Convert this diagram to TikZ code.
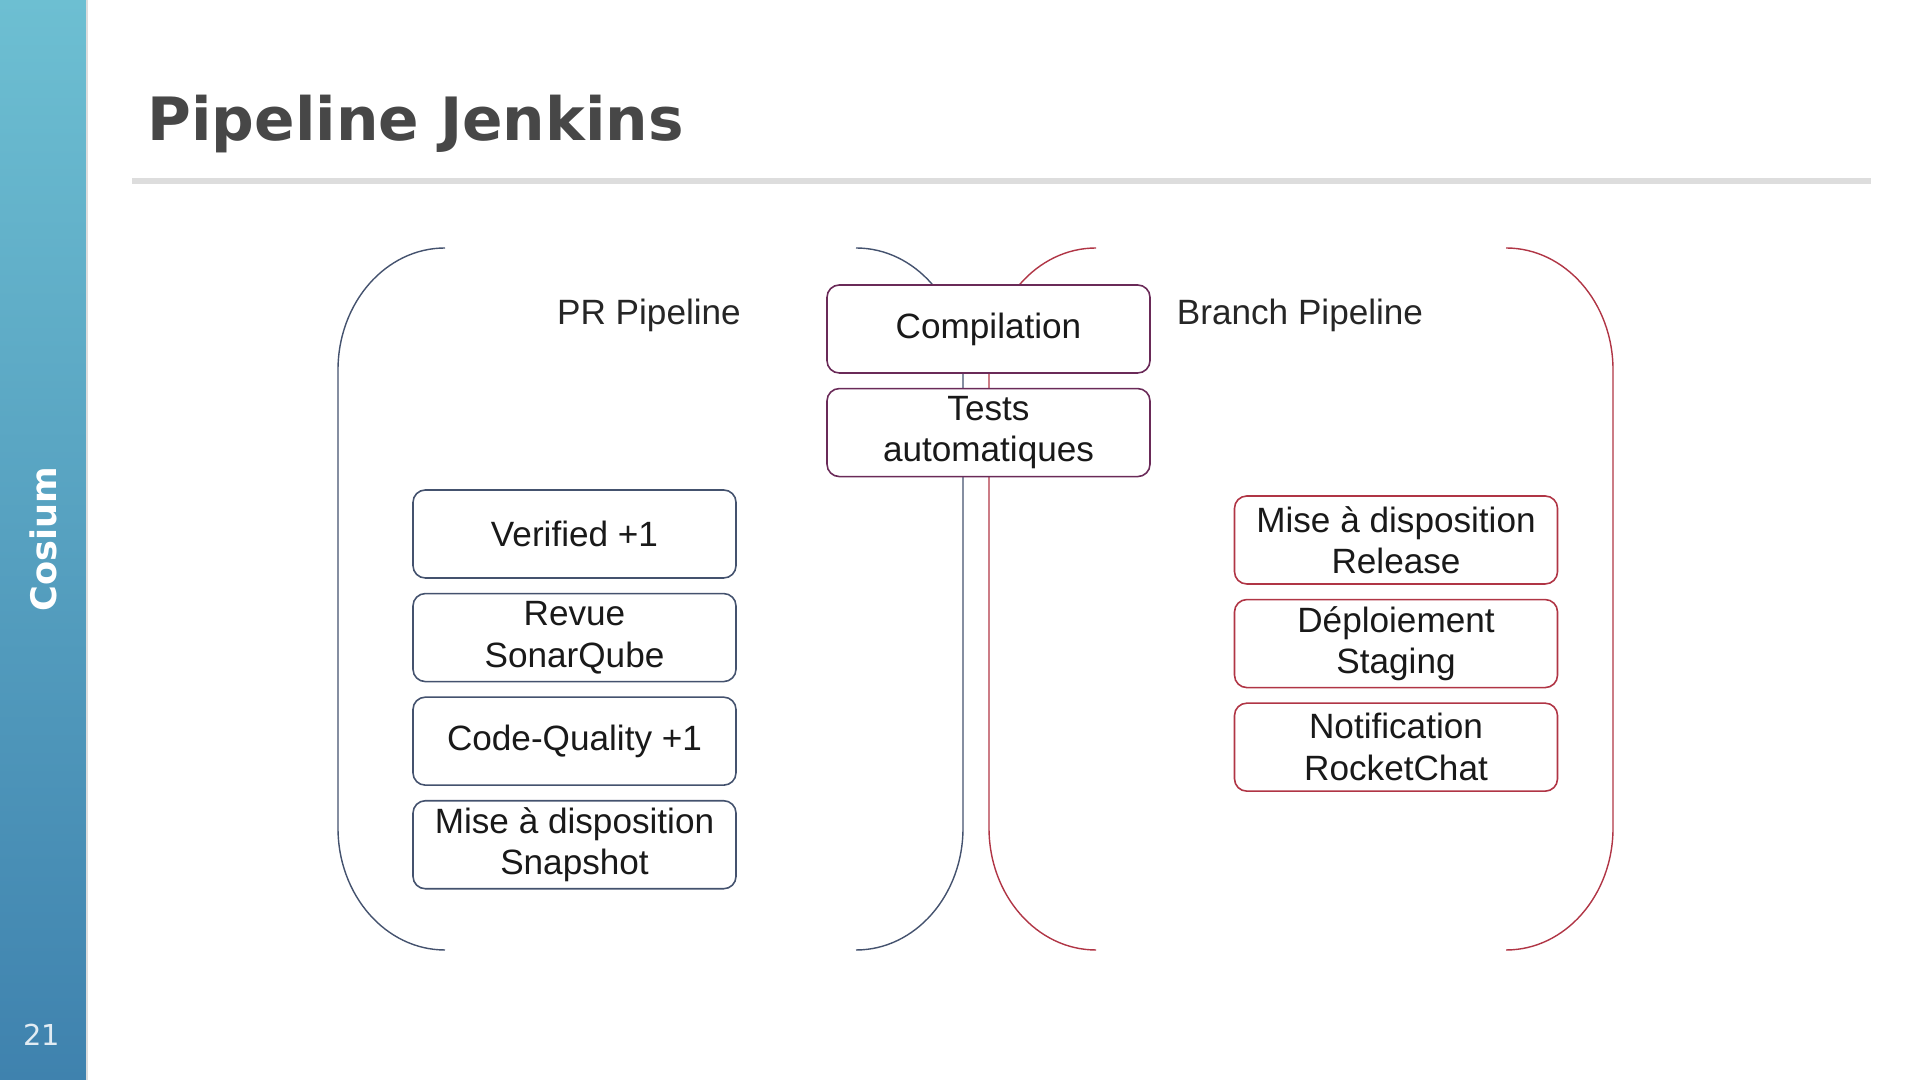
\documentclass[tikz,border=0pt]{standalone}
\usepackage{fontspec}
\setmainfont{Liberation Sans}
\newfontfamily\slidefont{DejaVu Sans}
\usetikzlibrary{positioning}
\definecolor{prline}{HTML}{44526E}
\definecolor{brline}{HTML}{B03545}
\definecolor{midline}{HTML}{6A2A58}
\definecolor{titlegray}{HTML}{474747}
\definecolor{sidetop}{HTML}{6DBFD2}
\definecolor{sidemid}{HTML}{58A6C6}
\definecolor{sidebot}{HTML}{3F82AE}
\definecolor{rulegray}{HTML}{DDDDDD}
\tikzset{
  stepbox/.style={draw, fill=white, rounded corners=3.5pt, line width=0.45pt,
    minimum width=3.23cm, minimum height=0.88cm, inner sep=0pt, align=center,
    text=black!90, font=\fontsize{10}{11.8}\selectfont},
  prbox/.style={stepbox, draw=prline},
  midbox/.style={stepbox, draw=midline},
  brbox/.style={stepbox, draw=brline},
  bracket/.style={line width=0.4pt},
  pipelabel/.style={text=black!85, font=\fontsize{10}{12}\selectfont}
}
\begin{document}
\begin{tikzpicture}
  \useasboundingbox (0,0) rectangle (19.2,10.8);
  \shade[top color=sidetop, middle color=sidemid, bottom color=sidebot] (0,0) rectangle (0.86,10.8);
  \draw[rulegray, line width=0.6pt] (0.87,0) -- (0.87,10.8);
  \node[rotate=90, text=white, font=\slidefont\bfseries\fontsize{10}{12}\selectfont] (brand) at (0.43,5.41) {Cosium};
  \node[text=white!85!sidebot, font=\slidefont\fontsize{8.2}{10}\selectfont] (pagenum) at (0.42,0.45) {21};
  \node[anchor=base west, inner sep=0pt, text=titlegray, font=\slidefont\bfseries\fontsize{17}{20}\selectfont] (title) at (1.47,9.39) {Pipeline Jenkins};
  \coordinate (ruleL) at (1.32,8.99); \coordinate (ruleR) at (18.71,8.99);
  \draw[rulegray, line width=1.6pt] (ruleL) -- (ruleR);

  \coordinate (PRtl) at (4.45,8.32); \coordinate (PRtr) at (8.56,8.32);
  \coordinate (BRtl) at (10.96,8.32); \coordinate (BRtr) at (15.06,8.32);
  \draw[bracket, prline] (PRtl) arc[start angle=90, end angle=180, x radius=1.07, y radius=1.22]
    -- ++(0,-4.58) arc[start angle=180, end angle=270, x radius=1.07, y radius=1.22];
  \draw[bracket, prline] (PRtr) arc[start angle=90, end angle=0, x radius=1.07, y radius=1.22]
    -- ++(0,-4.58) arc[start angle=0, end angle=-90, x radius=1.07, y radius=1.22];
  \draw[bracket, brline] (BRtl) arc[start angle=90, end angle=180, x radius=1.07, y radius=1.22]
    -- ++(0,-4.58) arc[start angle=180, end angle=270, x radius=1.07, y radius=1.22];
  \draw[bracket, brline] (BRtr) arc[start angle=90, end angle=0, x radius=1.07, y radius=1.22]
    -- ++(0,-4.58) arc[start angle=0, end angle=-90, x radius=1.07, y radius=1.22];

  \node[pipelabel] (prlabel) at (6.49,7.65) {PR Pipeline};
  \node[pipelabel] (brlabel) at (13.00,7.65) {Branch Pipeline};

  \node[midbox] (compile) at (9.885,7.51) {Compilation};
  \node[midbox, below=0.14cm of compile] (tests) {Tests\\automatiques};

  \node[prbox] (verified) at (5.745,5.46) {Verified +1};
  \node[prbox, below=0.14cm of verified] (sonar) {Revue\\SonarQube};
  \node[prbox, below=0.14cm of sonar] (quality) {Code-Quality +1};
  \node[prbox, below=0.14cm of quality] (snapshot) {Mise à disposition\\Snapshot};

  \node[brbox] (release) at (13.96,5.40) {Mise à disposition\\Release};
  \node[brbox, below=0.14cm of release] (staging) {Déploiement\\Staging};
  \node[brbox, below=0.14cm of staging] (notify) {Notification\\RocketChat};
\end{tikzpicture}
\end{document}
